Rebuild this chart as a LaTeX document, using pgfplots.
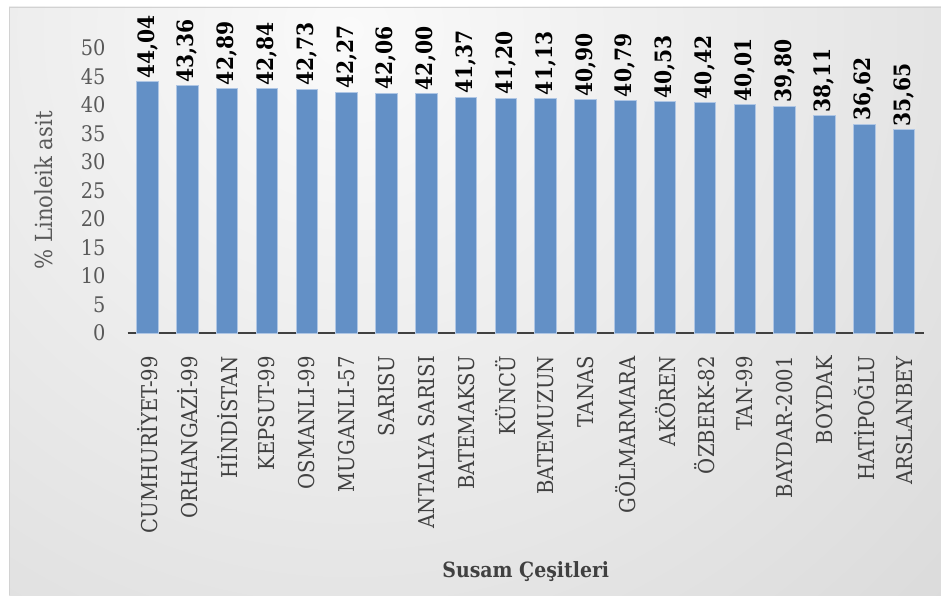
\documentclass[border=0pt]{standalone}
\usepackage{pgfplots}
\pgfplotsset{compat=1.18}
\usepackage{pgfplotstable}
\usepackage{fontspec}
\setmainfont{DejaVu Serif Condensed}
\definecolor{barfill}{RGB}{99,144,198}
\definecolor{baredge}{RGB}{175,198,228}
\definecolor{ticktxt}{RGB}{89,89,89}
\definecolor{cattxt}{RGB}{64,64,64}
\definecolor{axline}{RGB}{64,64,64}
\pgfplotstableread{
x y lab
0 44.04 44,04
1 43.36 43,36
2 42.89 42,89
3 42.84 42,84
4 42.73 42,73
5 42.27 42,27
6 42.06 42,06
7 42.00 42,00
8 41.37 41,37
9 41.20 41,20
10 41.13 41,13
11 40.90 40,90
12 40.79 40,79
13 40.53 40,53
14 40.42 40,42
15 40.01 40,01
16 39.80 39,80
17 38.11 38,11
18 36.62 36,62
19 35.65 35,65
}\datatab
\begin{document}
\begin{tikzpicture}[x=1pt,y=1pt]
\useasboundingbox (0,0) rectangle (941,595);
\fill[white] (0,0) rectangle (941,595);
\begin{scope}
\clip (9,0) rectangle (941,588);
\shade[inner color={rgb,255:red,250;green,250;blue,250}, outer color={rgb,255:red,190;green,190;blue,190}] (350-1600,565-1600) rectangle (350+1600,565+1600);
\end{scope}
\draw[gray!35, line width=0.8pt] (9,0) -- (9,588) -- (941,588);
\begin{axis}[
  at={(127.6pt,262pt)}, anchor=south west,
  scale only axis, width=796.4pt, height=285pt,
  xmin=-0.5, xmax=19.5, ymin=0, ymax=50,
  clip=false,
  axis lines=left,
  axis line style={-},
  y axis line style={draw=none},
  x axis line style={line width=2.5pt, color=axline},
  major tick length=0pt,
  xtick=data,
  xticklabels={CUMHURİYET-99,ORHANGAZİ-99,HİNDİSTAN,KEPSUT-99,OSMANLI-99,MUGANLI-57,SARISU,{ANTALYA SARISI},BATEMAKSU,KÜNCÜ,BATEMUZUN,TANAS,GÖLMARMARA,AKÖREN,ÖZBERK-82,TAN-99,BAYDAR-2001,BOYDAK,HATİPOĞLU,ARSLANBEY},
  xticklabel style={rotate=90, anchor=east, inner ysep=0pt, inner xsep=23pt, font=\fontsize{21.8}{22}\selectfont, text=cattxt},
  ytick={0,5,...,50},
  yticklabel style={anchor=east, inner sep=0pt, xshift=-22pt, font=\fontsize{21.5}{22}\selectfont, text=ticktxt},
  /pgf/number format/assume math mode=true,
  every axis y label/.style={at={(axis description cs:-0.105,0.5)}, rotate=90, anchor=center},
  ylabel={\% Linoleik asit},
  ylabel style={font=\fontsize{23.5}{24}\selectfont, text=ticktxt},
  every axis x label/.style={at={(axis description cs:0.5,-0.8386)}, anchor=center},
  xlabel={Susam Çeşitleri},
  xlabel style={font=\bfseries\fontsize{21}{21}\selectfont, text=cattxt},
]
\addplot[ybar, bar width=21.5pt, fill=barfill, draw=baredge, line width=1pt,
  nodes near coords, point meta=explicit symbolic,
  every node near coord/.append style={rotate=90, anchor=west, inner sep=3pt, font=\bfseries\fontsize{22.5}{23}\selectfont, text=black}]
  table[x=x, y=y, meta=lab] {\datatab};
\end{axis}
\end{tikzpicture}
\end{document}
